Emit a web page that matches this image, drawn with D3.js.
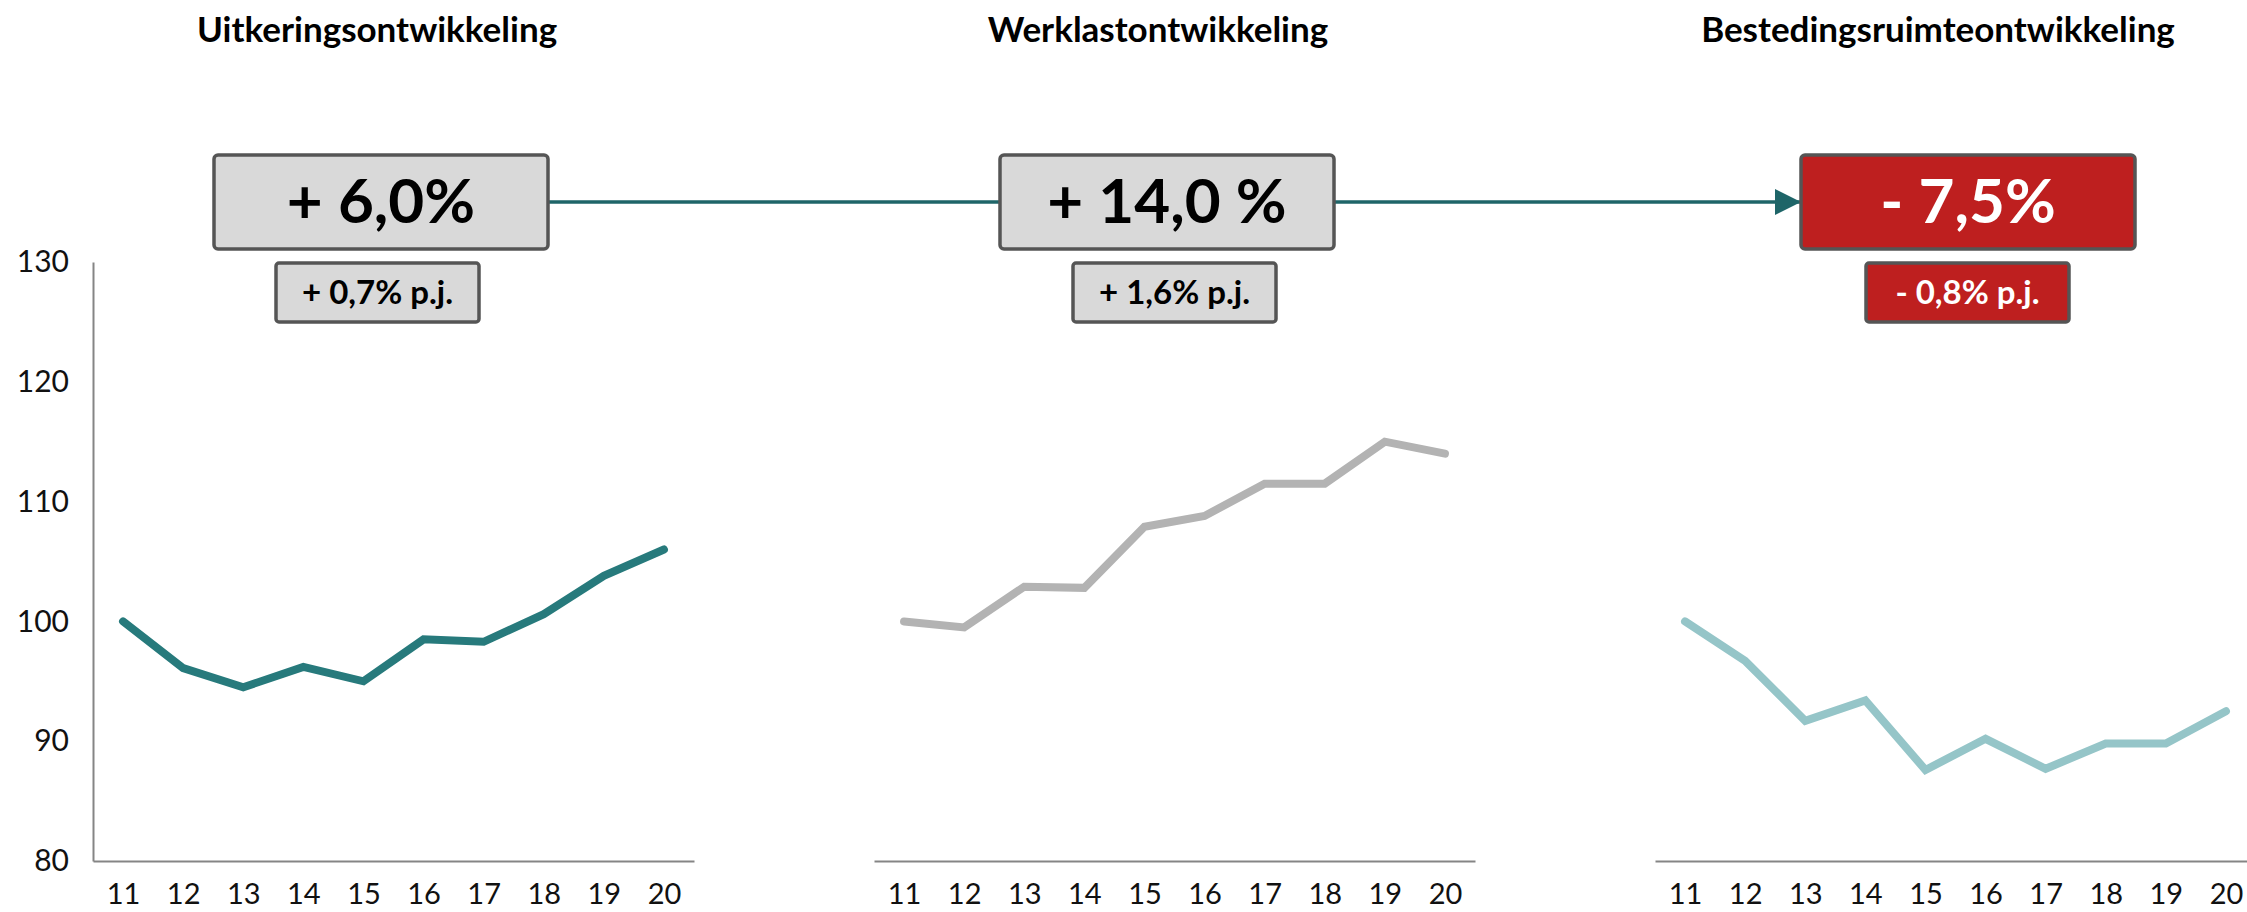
<!DOCTYPE html>
<html>
<head>
<meta charset="utf-8">
<title></title>
<script src="https://cdn.jsdelivr.net/npm/d3@7"></script>
<style>
	body { margin: 0; background: #fff; }
	svg text { font-family: Lato, 'Open Sans', sans-serif; }
</style>
</head>
<body>
<div id="chart"></div>
<script>

// data
var years = ['11', '12', '13', '14', '15', '16', '17', '18', '19', '20'];
var uitkering = [100.0, 96.1, 94.5, 96.2, 95.0, 98.5, 98.3, 100.6, 103.8, 106.0];
var werklast = [100.0, 99.5, 102.9, 102.8, 107.9, 108.8, 111.5, 111.5, 115.0, 114.0];
var bestedingsruimte = [100.0, 96.7, 91.7, 93.4, 87.6, 90.2, 87.7, 89.8, 89.8, 92.5];
var yTicks = [80, 90, 100, 110, 120, 130];

var titles = ['Uitkeringsontwikkeling', 'Werklastontwikkeling', 'Bestedingsruimteontwikkeling'];
var totals = ['+ 6,0%', '+ 14,0 %', '- 7,5%'];
var perYear = ['+ 0,7% p.j.', '+ 1,6% p.j.', '- 0,8% p.j.'];

var series = [uitkering, werklast, bestedingsruimte];
var lineColors = ['#277a7c', '#b3b3b3', '#95c5c8'];

var W = 2247, H = 912;

var svg = d3.select('#chart').append('svg')
	.attr('width', W)
	.attr('height', H);

// panel layout
var panelLeft = [93, 874, 1655];
var panelWidth = 601;
var yTop = 262, yBottom = 861;

var y = d3.scaleLinear().domain([80, 130]).range([yBottom, yTop]);

series.forEach(function(values, i) {
	var g = svg.append('g');

	var x = d3.scalePoint()
		.domain(years)
		.range([panelLeft[i], panelLeft[i] + panelWidth])
		.padding(0.5);

	var xAxis = g.append('g')
		.attr('transform', 'translate(0,' + yBottom + ')')
		.call(d3.axisBottom(x).tickSize(0).tickSizeOuter(0).tickPadding(22));
	xAxis.select('.domain').attr('stroke', '#858585').attr('stroke-width', 2);
	xAxis.selectAll('text')
		.attr('fill', '#111')
		.style('font-size', '29px');

	if (i == 0) {
		var yAxis = g.append('g')
			.attr('transform', 'translate(' + panelLeft[i] + ',0)')
			.call(d3.axisLeft(y).tickValues(yTicks).tickSize(0).tickSizeOuter(0).tickPadding(24));
		yAxis.select('.domain').attr('stroke', '#858585').attr('stroke-width', 2);
		yAxis.selectAll('text')
			.attr('fill', '#111')
			.style('font-size', '30px');
	}

	var line = d3.line()
		.x(function(d, j) { return x(years[j]); })
		.y(function(d) { return y(d); });

	g.append('path')
		.datum(values)
		.attr('d', line)
		.attr('fill', 'none')
		.attr('stroke', lineColors[i])
		.attr('stroke-width', 8)
		.attr('stroke-linejoin', 'miter')
		.attr('stroke-linecap', 'round');
});

// titles
var titleX = [377, 1158, 1938];
svg.selectAll('.title').data(titles)
	.enter().append('text').classed('title', true)
	.attr('x', function(d, i) { return titleX[i]; })
	.attr('y', 42)
	.attr('text-anchor', 'middle')
	.style('font-size', '35px')
	.style('font-weight', 'bold')
	.attr('fill', '#000')
	.text(function(d) { return d; });

// connector line with arrow
var bigX = [214, 1000, 1801];
var bigW = 334, bigH = 94, bigY = 155;
var lineY = 202;
var teal = '#1e6568';

svg.append('defs').append('marker')
	.attr('id', 'arrow')
	.attr('viewBox', '0 0 10 10')
	.attr('refX', 10)
	.attr('refY', 5)
	.attr('markerWidth', 26)
	.attr('markerHeight', 26)
	.attr('markerUnits', 'userSpaceOnUse')
	.attr('orient', 'auto')
	.append('path')
	.attr('d', 'M0,0 L10,5 L0,10 Z')
	.attr('fill', teal);

svg.append('line')
	.attr('x1', bigX[0] + bigW).attr('x2', bigX[1])
	.attr('y1', lineY).attr('y2', lineY)
	.attr('stroke', teal).attr('stroke-width', 3.5);

svg.append('line')
	.attr('x1', bigX[1] + bigW).attr('x2', bigX[2])
	.attr('y1', lineY).attr('y2', lineY)
	.attr('stroke', teal).attr('stroke-width', 3.5)
	.attr('marker-end', 'url(#arrow)');

// boxes
var boxFill = ['#d9d9d9', '#d9d9d9', '#be1f1f'];
var boxText = ['#000', '#000', '#fff'];

svg.selectAll('.big').data(totals)
	.enter().append('rect').classed('big', true)
	.attr('x', function(d, i) { return bigX[i]; })
	.attr('y', bigY)
	.attr('width', bigW)
	.attr('height', bigH)
	.attr('rx', 4)
	.attr('fill', function(d, i) { return boxFill[i]; })
	.attr('stroke', '#555')
	.attr('stroke-width', 3.5);

svg.selectAll('.big-text').data(totals)
	.enter().append('text').classed('big-text', true)
	.attr('x', function(d, i) { return bigX[i] + bigW / 2; })
	.attr('y', 223)
	.attr('text-anchor', 'middle')
	.style('font-size', '62px')
	.style('font-weight', 'bold')
	.attr('fill', function(d, i) { return boxText[i]; })
	.text(function(d) { return d; });

var smallX = [276, 1073, 1866];
var smallW = 203, smallH = 59, smallY = 263;

svg.selectAll('.small').data(perYear)
	.enter().append('rect').classed('small', true)
	.attr('x', function(d, i) { return smallX[i]; })
	.attr('y', smallY)
	.attr('width', smallW)
	.attr('height', smallH)
	.attr('rx', 3)
	.attr('fill', function(d, i) { return boxFill[i]; })
	.attr('stroke', '#555')
	.attr('stroke-width', 3.5);

svg.selectAll('.small-text').data(perYear)
	.enter().append('text').classed('small-text', true)
	.attr('x', function(d, i) { return smallX[i] + smallW / 2; })
	.attr('y', 304)
	.attr('text-anchor', 'middle')
	.style('font-size', '33px')
	.style('font-weight', 'bold')
	.attr('fill', function(d, i) { return boxText[i]; })
	.text(function(d) { return d; });

</script>
</body>
</html>
